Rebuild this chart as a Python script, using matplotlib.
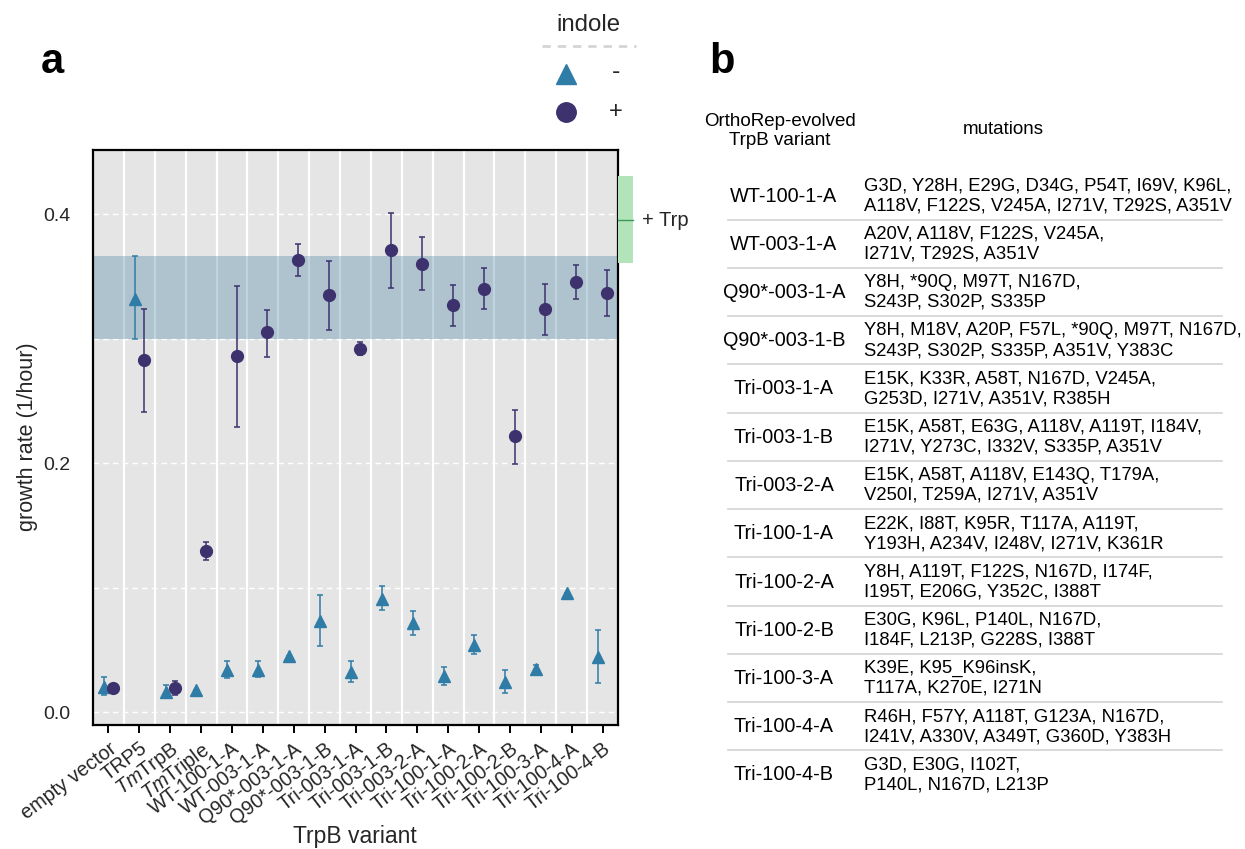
import numpy as np
import matplotlib
matplotlib.use("Agg")
import matplotlib.pyplot as plt
from matplotlib.patches import Rectangle
from matplotlib.lines import Line2D
from matplotlib.transforms import ScaledTranslation, blended_transform_factory

# ---- data ----
variants = ["empty vector", "TRP5", r"$\it{Tm}$TrpB", r"$\it{Tm}$Triple",
            "WT-100-1-A", "WT-003-1-A", "Q90*-003-1-A", "Q90*-003-1-B",
            "Tri-003-1-A", "Tri-003-1-B", "Tri-003-2-A", "Tri-100-1-A",
            "Tri-100-2-A", "Tri-100-2-B", "Tri-100-3-A", "Tri-100-4-A",
            "Tri-100-4-B"]

# without indole (triangles)
minus_mean = [0.0205, 0.332, 0.016, 0.0175, 0.034, 0.034, 0.045, 0.073,
              0.032, 0.091, 0.0717, 0.0288, 0.0536, 0.0245, 0.0346, 0.0953, 0.0441]
minus_lo = [0.014, 0.2995, 0.011, 0.0175, 0.027, 0.028, 0.045, 0.053,
            0.024, 0.082, 0.062, 0.022, 0.047, 0.015, 0.032, 0.0953, 0.0236]
minus_hi = [0.028, 0.366, 0.022, 0.0175, 0.041, 0.041, 0.045, 0.094,
            0.041, 0.101, 0.081, 0.036, 0.0616, 0.034, 0.038, 0.0953, 0.0656]

# with indole (circles)
plus_mean = [0.019, 0.283, 0.0196, 0.129, 0.286, 0.305, 0.363, 0.335,
             0.292, 0.371, 0.360, 0.327, 0.340, 0.2216, 0.3237, 0.3454, 0.3369]
plus_lo = [0.019, 0.241, 0.0135, 0.122, 0.229, 0.285, 0.350, 0.307,
           0.287, 0.341, 0.339, 0.310, 0.324, 0.199, 0.303, 0.332, 0.318]
plus_hi = [0.019, 0.324, 0.025, 0.137, 0.342, 0.323, 0.376, 0.362,
           0.297, 0.401, 0.382, 0.343, 0.357, 0.243, 0.344, 0.359, 0.355]

# + Trp reference range
trp_mean, trp_lo, trp_hi = 0.395, 0.361, 0.4305

table_names = ["WT-100-1-A", "WT-003-1-A", "Q90*-003-1-A", "Q90*-003-1-B",
               "Tri-003-1-A", "Tri-003-1-B", "Tri-003-2-A", "Tri-100-1-A",
               "Tri-100-2-A", "Tri-100-2-B", "Tri-100-3-A", "Tri-100-4-A",
               "Tri-100-4-B"]
table_mutations = [
    "G3D, Y28H, E29G, D34G, P54T, I69V, K96L,\nA118V, F122S, V245A, I271V, T292S, A351V",
    "A20V, A118V, F122S, V245A,\nI271V, T292S, A351V",
    "Y8H, *90Q, M97T, N167D,\nS243P, S302P, S335P",
    "Y8H, M18V, A20P, F57L, *90Q, M97T, N167D,\nS243P, S302P, S335P, A351V, Y383C",
    "E15K, K33R, A58T, N167D, V245A,\nG253D, I271V, A351V, R385H",
    "E15K, A58T, E63G, A118V, A119T, I184V,\nI271V, Y273C, I332V, S335P, A351V",
    "E15K, A58T, A118V, E143Q, T179A,\nV250I, T259A, I271V, A351V",
    "E22K, I88T, K95R, T117A, A119T,\nY193H, A234V, I248V, I271V, K361R",
    "Y8H, A119T, F122S, N167D, I174F,\nI195T, E206G, Y352C, I388T",
    "E30G, K96L, P140L, N167D,\nI184F, L213P, G228S, I388T",
    "K39E, K95_K96insK,\nT117A, K270E, I271N",
    "R46H, F57Y, A118T, G123A, N167D,\nI241V, A330V, A349T, G360D, Y383H",
    "G3D, E30G, I102T,\nP140L, N167D, L213P",
]

# ---- style ----
plt.rcParams["font.family"] = ["Liberation Sans", "DejaVu Sans"]
plt.rcParams["mathtext.fontset"] = "custom"
plt.rcParams["mathtext.rm"] = "Liberation Sans"
plt.rcParams["mathtext.it"] = "Liberation Sans:italic"

c_minus = "#2F7CA6"
c_plus = "#3D316E"
c_text = "#262626"

W, H = 1245, 849
fig = plt.figure(figsize=(W / 100, H / 100), dpi=100)


def fx(px):
    return px / W


def fy(py):
    return 1 - py / H


ax = fig.add_axes([fx(93), fy(725), fx(618) - fx(93), fy(150) - fy(725)])
ax.set_facecolor("#E5E5E5")

x = np.arange(len(variants))
d = 0.15

# grid
for k in range(len(variants) - 1):
    ax.axvline(k + 0.5, color="white", lw=1.6, zorder=1)
for yv in [0.0, 0.1, 0.2, 0.3, 0.4]:
    ax.axhline(yv, color="white", lw=1.0, ls=(0, (4, 3)), zorder=1)

# TRP5 (no indole) reference band
ax.axhspan(minus_lo[1], minus_hi[1], color="#4B84A6", alpha=0.35, lw=0, zorder=2)

m_mean = np.array(minus_mean)
ax.errorbar(x - d, m_mean,
            yerr=[m_mean - np.array(minus_lo), np.array(minus_hi) - m_mean],
            fmt="^", color=c_minus, ecolor=c_minus, elinewidth=1.1,
            capsize=2.2, capthick=1.1, markersize=8.5, zorder=4)
p_mean = np.array(plus_mean)
ax.errorbar(x + d, p_mean,
            yerr=[p_mean - np.array(plus_lo), np.array(plus_hi) - p_mean],
            fmt="o", color=c_plus, ecolor=c_plus, elinewidth=1.1,
            capsize=2.2, capthick=1.1, markersize=8.5, zorder=4)

ax.set_xlim(-0.5, len(variants) - 0.5)
ax.set_ylim(-0.0104, 0.4515)
ax.set_yticks([0.0, 0.2, 0.4])
ax.set_yticklabels(["0.0", "0.2", "0.4"], fontsize=14, color=c_text)
ax.set_xticks(x)
ax.set_xticklabels(variants, rotation=37, ha="right", va="top",
                   rotation_mode="anchor", fontsize=14.3, color=c_text)
shift = ScaledTranslation(-4 / 72, 0, fig.dpi_scale_trans)
for lab in ax.get_xticklabels():
    lab.set_transform(lab.get_transform() + shift)
ax.tick_params(axis="y", length=0, pad=16)
ax.tick_params(axis="x", length=6, width=1.4, color="black", pad=4)
for s in ax.spines.values():
    s.set_linewidth(1.6)
    s.set_color("black")

# axis titles
fig.text(fx(28), fy(437), "growth rate (1/hour)", rotation=90, fontsize=15.5,
         color=c_text, ha="center", va="center")
fig.text(fx(355), fy(836), "TrpB variant", fontsize=16.5, color=c_text,
         ha="center", va="center")

# + Trp range, outside the panel
tr = blended_transform_factory(ax.transAxes, ax.transData)
ax.add_patch(Rectangle((1.0, trp_lo), 0.028, trp_hi - trp_lo, transform=tr,
                       facecolor="#B3E3B8", edgecolor="none", clip_on=False, zorder=3))
ax.add_line(Line2D([1.0, 1.028], [trp_mean, trp_mean], transform=tr,
                   color="#3A9A5B", lw=1.0, clip_on=False, zorder=4))
ax.text(1.046, trp_mean, "+ Trp", transform=tr, fontsize=14.5, va="center",
        ha="left", color=c_text)

# legend (drawn by hand)
fig.text(fx(588), fy(25), "indole", fontsize=17.3, ha="center", va="center",
         color=c_text)
fig.add_artist(Line2D([fx(542), fx(636)], [fy(46), fy(46)], color="#D5D5D5",
                      lw=2, ls=(0, (3, 2.5))))
fig.add_artist(Line2D([fx(566)], [fy(74)], marker="^", markersize=15,
                      color=c_minus, ls="none"))
fig.add_artist(Line2D([fx(566)], [fy(112)], marker="o", markersize=14,
                      color=c_plus, ls="none"))
fig.text(fx(616), fy(72), "-", fontsize=18, ha="center", va="center",
         color=c_text)
fig.text(fx(616), fy(112), "+", fontsize=17, ha="center", va="center",
         color=c_text)

# panel letters
fig.text(fx(52), fy(62), "a", fontsize=30, fontweight="bold", ha="center",
         va="center")
fig.text(fx(722), fy(62), "b", fontsize=30, fontweight="bold", ha="center",
         va="center")

# table b
fig.text(fx(780), fy(131), "OrthoRep-evolved\nTrpB variant", fontsize=13.5,
         ha="center", va="center", linespacing=1.15)
fig.text(fx(1003), fy(129), "mutations", fontsize=13.5, ha="center",
         va="center")
row0, step = 196, 48.25
for i, (nm, mut) in enumerate(zip(table_names, table_mutations)):
    yc = row0 + step * i
    fig.text(fx(784), fy(yc), nm, fontsize=14.3, ha="center", va="center")
    fig.text(fx(864), fy(yc), mut, fontsize=13.3, ha="left", va="center",
             linespacing=1.2)
    if i < len(table_names) - 1:
        ys = yc + step / 2 - 0.5
        fig.add_artist(Line2D([fx(728), fx(1222)], [fy(ys), fy(ys)],
                              color="#D3D3D3", lw=1.2))

fig.savefig("out.png", dpi=100)
